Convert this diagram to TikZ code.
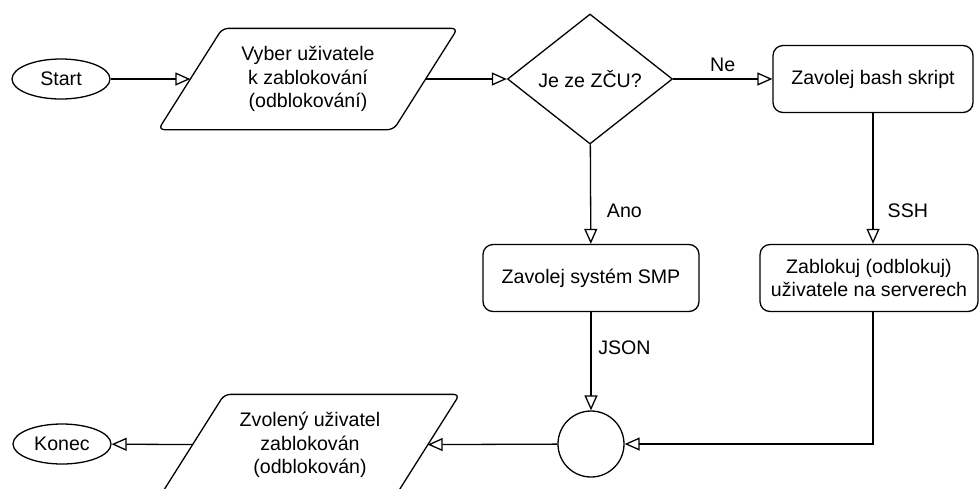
\documentclass[tikz,border=0pt]{standalone}
\usepackage{fontspec}
\setmainfont{Liberation Sans}
\usetikzlibrary{arrows.meta,shapes.geometric,positioning}

\begin{document}
\begin{tikzpicture}[x=0.5pt, y=-0.5pt, line width=0.65pt,
    font=\fontsize{9.8}{11.7}\selectfont,
    >={Triangle[open,length=7.5pt,width=6.5pt]},
    term/.style={draw, ellipse, inner sep=0pt, minimum width=49pt, minimum height=20pt},
    io/.style={rectangle, align=center, inner sep=1pt, minimum width=117pt, minimum height=50pt},
    decide/.style={draw, diamond, shape aspect=1.27, inner sep=1pt,
      minimum width=82.5pt, minimum height=65pt},
    proc/.style={draw, rounded corners=5pt, align=center, minimum height=33.5pt},
    joint/.style={draw, circle, inner sep=0pt, minimum size=33pt}]
    \useasboundingbox (0,0) rectangle (979,488);

    % top row
    \node[term] (start) at (61,79) {Start};
    \node[io] (choose) at (308,79) {Vyber uživatele\\k zablokování\\(odblokování)};
    \node[decide] (zcu) at (590,79) {Je ze ZČU?};
    \node[proc, minimum width=100pt] (bash) at (873,79) {Zavolej bash skript};

    % middle row
    \node[proc, minimum width=108pt] (smp) at (591,278) {Zavolej systém SMP};
    \node[proc, minimum width=109pt] (block) at (869,278)
      {Zablokuj (odblokuj)\\uživatele na serverech};

    % bottom row
    \node[joint] (join) at (591,444) {};
    \node[io] (chosen) at (310,445) {Zvolený uživatel\\zablokován\\(odblokován)};
    \node[term] (konec) at (62,444) {Konec};

    % parallelogram outlines
    \draw[rounded corners=3pt] ([xshift=-16pt]choose.south west) -- ([xshift=16pt]choose.north west)
      -- ([xshift=16pt]choose.north east) -- ([xshift=-16pt]choose.south east) -- cycle;
    \draw[rounded corners=3pt] ([xshift=-16pt]chosen.south west) -- ([xshift=16pt]chosen.north west)
      -- ([xshift=16pt]chosen.north east) -- ([xshift=-16pt]chosen.south east) -- cycle;

    % connectors
    \draw[->] (start) -- (choose);
    \draw[->] (choose) -- (zcu);
    \draw[->] (zcu) -- node[above] {Ne} (bash);
    \draw[->] (zcu) -- node[pos=.67, right=4.5pt] {Ano} (smp);
    \draw[->] (bash) -- node[pos=.75, right=3.7pt] {SSH} (bash.south |- block.north);
    \draw[->] (smp) -- node[pos=.36, right] {JSON} (join);
    \draw[->] (bash.south |- block.south) |- (join);
    \draw[->] (join) -- (chosen);
    \draw[->] (chosen) -- (konec);
\end{tikzpicture}
\end{document}
